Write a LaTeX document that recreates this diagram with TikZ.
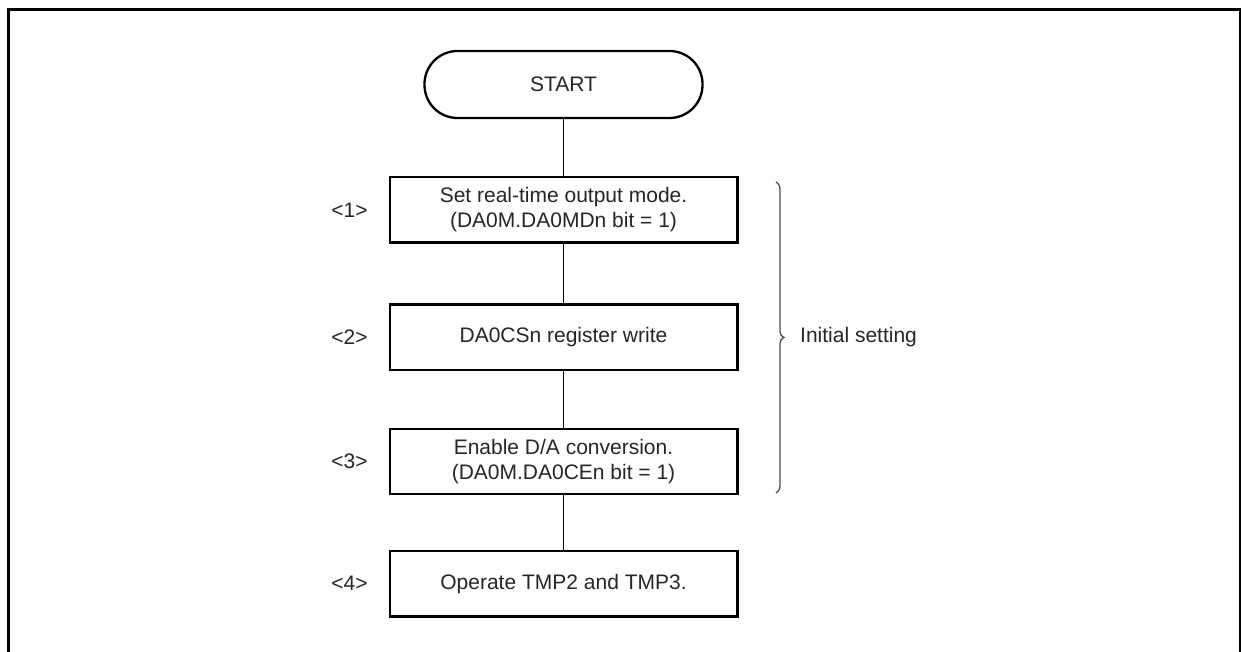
\documentclass[tikz,border=0pt]{standalone}
\usepackage{fontspec}
\setmainfont{Liberation Sans}
\begin{document}
\begin{tikzpicture}[x=1pt,y=-1pt,
  txt/.style={text=black!85, font=\fontsize{21}{25}\selectfont},
  stepbox/.style={draw, line width=2.3pt, minimum width=347.7pt, minimum height=65.5pt, inner sep=0pt, align=center, txt},
  term/.style={draw, line width=2.3pt, rounded corners=33pt, minimum width=278pt, minimum height=67pt, inner sep=0pt, txt},
  conn/.style={line width=1.1pt},
  lbl/.style={txt, inner sep=0pt}]
\useasboundingbox (0,0) rectangle (1241,652);
\fill[white] (0,0) rectangle (1241,652);
\draw[line width=3pt] (8.5,652) -- (8.5,9.5) -- (1240.5,9.5) -- (1240.5,652);

\node[term] (start) at (563.5,84.5) {START};
\node[stepbox] (s1) at (563.5,209.8) {Set real-time output mode.\\(DA0M.DA0MDn bit = 1)};
\node[stepbox] (s2) at (563.5,337.2) {DA0CSn register write};
\node[stepbox] (s3) at (563.5,461.5) {Enable D/A conversion.\\(DA0M.DA0CEn bit = 1)};
\node[stepbox] (s4) at (563.5,583.6) {Operate TMP2 and TMP3.};

\node[lbl] (l1) at (349.5,209.8) {<1>};
\node[lbl] (l2) at (349.5,337.2) {<2>};
\node[lbl] (l3) at (349.5,461.5) {<3>};
\node[lbl] (l4) at (349.5,583.6) {<4>};

\draw[conn] (start) -- (s1);
\draw[conn] (s1) -- (s2);
\draw[conn] (s2) -- (s3);
\draw[conn] (s3) -- (s4);

\node[lbl, anchor=west] (init) at (800,337.5) {Initial setting};
\draw[line width=1.3pt, black!70] (776,182) .. controls (779,184) and (780,186) .. (780,190)
  -- (780,332) .. controls (780,335) and (782,336.5) .. (784,337.5)
  .. controls (782,338.5) and (780,340) .. (780,343)
  -- (780,485) .. controls (780,489) and (779,491) .. (776,493);
\end{tikzpicture}
\end{document}
